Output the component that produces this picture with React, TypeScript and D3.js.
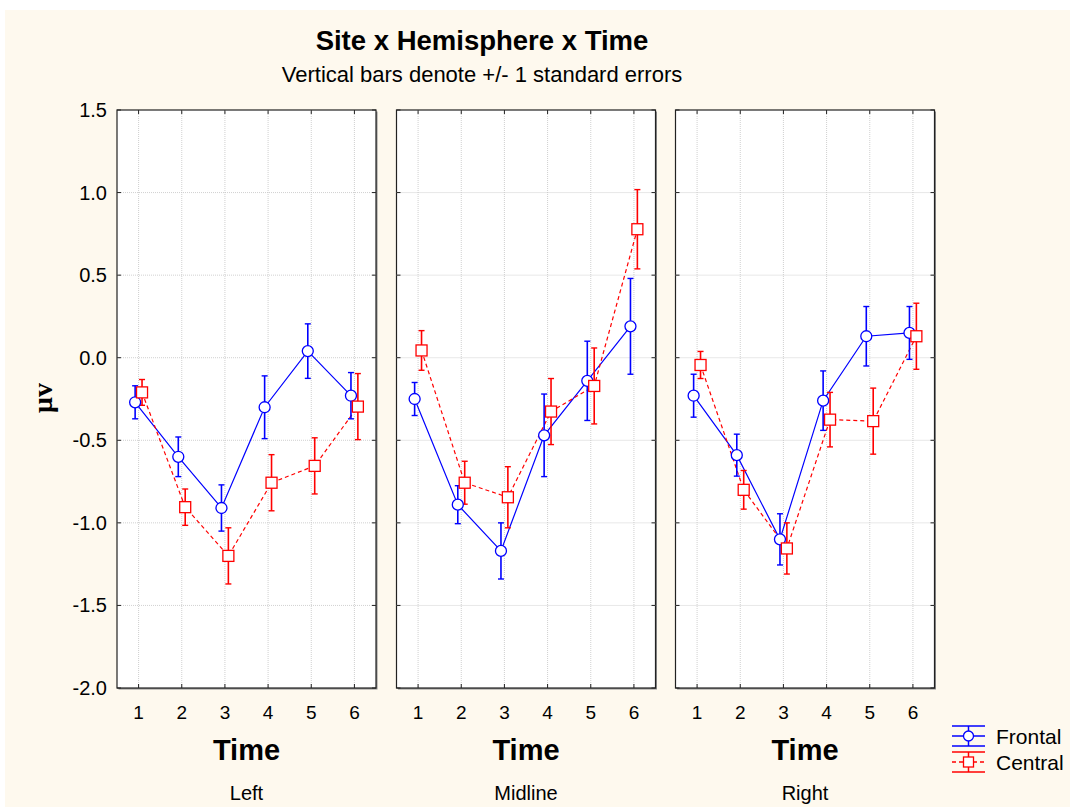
import React from "react";
import * as d3 from "d3";

const panels = ["Left", "Midline", "Right"];
const times = [1, 2, 3, 4, 5, 6];
const yTicks = [1.5, 1.0, 0.5, 0.0, -0.5, -1.0, -1.5, -2.0];

const frontalMean = [
  [-0.27, -0.60, -0.91, -0.30, 0.04, -0.23],
  [-0.25, -0.89, -1.17, -0.47, -0.14, 0.19],
  [-0.23, -0.59, -1.10, -0.26, 0.13, 0.15],
];
const frontalSE = [
  [0.10, 0.12, 0.14, 0.19, 0.165, 0.14],
  [0.10, 0.115, 0.17, 0.25, 0.24, 0.29],
  [0.13, 0.127, 0.155, 0.18, 0.18, 0.16],
];
const centralMean = [
  [-0.21, -0.905, -1.20, -0.757, -0.655, -0.296],
  [0.044, -0.757, -0.845, -0.326, -0.171, 0.778],
  [-0.044, -0.80, -1.155, -0.375, -0.384, 0.13],
];
const centralSE = [
  [0.078, 0.11, 0.17, 0.17, 0.17, 0.2],
  [0.12, 0.13, 0.185, 0.2, 0.23, 0.24],
  [0.082, 0.117, 0.155, 0.165, 0.2, 0.2],
];

const FONT = "'Liberation Sans', Arial, Helvetica, sans-serif";
const BLUE = "#0000ff";
const RED = "#ff0000";

export default function App() {
  const W = 1070, H = 807;
  const top = 110, bottom = 688;
  const panelW = 259;
  const panelLefts = [117, 396.5, 675.5];
  const y = d3.scaleLinear().domain([-2, 1.5]).range([bottom, top]);

  const lineGen = (xs: d3.ScaleLinear<number, number>, off: number) =>
    d3
      .line<number>()
      .x((_, i) => xs(times[i] + off))
      .y((v) => y(v));

  return (
    <svg width={W} height={H} style={{ display: "block", position: "absolute", left: 0, top: 0 }}>
      <rect x={0} y={0} width={W} height={H} fill="#ffffff" />
      <rect x={5} y={10} width={W - 5} height={H - 10} fill="#fef9ee" />
      <text x={482} y={50} textAnchor="middle" fontFamily={FONT} fontWeight="bold" fontSize={27.5}>
        Site x Hemisphere x Time
      </text>
      <text x={482} y={82} textAnchor="middle" fontFamily={FONT} fontSize={22}>
        Vertical bars denote +/- 1 standard errors
      </text>
      <text
        transform={`translate(52,398) rotate(-90)`}
        textAnchor="middle"
        fontFamily="'Liberation Serif', 'Times New Roman', serif"
        fontWeight="bold"
        fontSize={28}
      >
        μv
      </text>
      {yTicks.map((t) => (
        <text key={t} x={107} y={y(t) + 7} textAnchor="end" fontFamily={FONT} fontSize={20}>
          {t.toFixed(1)}
        </text>
      ))}
      {panels.map((name, p) => {
        const x0 = panelLefts[p];
        const xs = d3.scaleLinear().domain([0.5, 6.5]).range([x0, x0 + panelW]);
        const fOff = -0.08, cOff = 0.08;
        const cx = x0 + panelW / 2;
        return (
          <g key={name}>
            <rect x={x0 + 1.5} y={top + 1.5} width={panelW} height={bottom - top} fill="#8a8a8a" />
            <rect x={x0} y={top} width={panelW} height={bottom - top} fill="#ffffff" stroke="#222" strokeWidth={1.2} />
            {yTicks.slice(1, -1).map((t) => (
              <line key={t} x1={x0} x2={x0 + panelW} y1={y(t)} y2={y(t)} stroke="#c4c4c4" strokeWidth={0.8} strokeDasharray="1,1" />
            ))}
            {times.map((t) => (
              <line key={t} x1={xs(t)} x2={xs(t)} y1={top} y2={bottom} stroke="#c4c4c4" strokeWidth={0.8} strokeDasharray="1,1" />
            ))}
            {yTicks.map((t) => (
              <g key={t}>
                <line x1={x0} x2={x0 + 4} y1={y(t)} y2={y(t)} stroke="#222" />
                <line x1={x0 + panelW - 4} x2={x0 + panelW} y1={y(t)} y2={y(t)} stroke="#222" />
              </g>
            ))}
            {times.map((t) => (
              <g key={t}>
                <line x1={xs(t)} x2={xs(t)} y1={bottom} y2={bottom - 4} stroke="#222" />
                <line x1={xs(t)} x2={xs(t)} y1={top} y2={top + 4} stroke="#222" />
                <text x={xs(t)} y={719} textAnchor="middle" fontFamily={FONT} fontSize={19}>
                  {t}
                </text>
              </g>
            ))}
            <text x={cx} y={760} textAnchor="middle" fontFamily={FONT} fontWeight="bold" fontSize={29}>
              Time
            </text>
            <text x={cx} y={800} textAnchor="middle" fontFamily={FONT} fontSize={20}>
              {name}
            </text>
            <path d={lineGen(xs, fOff)(frontalMean[p]) || ""} fill="none" stroke={BLUE} strokeWidth={1.2} />
            <path d={lineGen(xs, cOff)(centralMean[p]) || ""} fill="none" stroke={RED} strokeWidth={1.2} strokeDasharray="4,3" />
            {frontalMean[p].map((v, i) => {
              const px = xs(times[i] + fOff);
              const se = frontalSE[p][i];
              return (
                <g key={"f" + i}>
                  <line x1={px} x2={px} y1={y(v + se)} y2={y(v - se)} stroke={BLUE} strokeWidth={1.6} />
                  <line x1={px - 3} x2={px + 3} y1={y(v + se)} y2={y(v + se)} stroke={BLUE} strokeWidth={1.4} />
                  <line x1={px - 3} x2={px + 3} y1={y(v - se)} y2={y(v - se)} stroke={BLUE} strokeWidth={1.4} />
                </g>
              );
            })}
            {centralMean[p].map((v, i) => {
              const px = xs(times[i] + cOff);
              const se = centralSE[p][i];
              return (
                <g key={"c" + i}>
                  <line x1={px} x2={px} y1={y(v + se)} y2={y(v - se)} stroke={RED} strokeWidth={1.6} />
                  <line x1={px - 3} x2={px + 3} y1={y(v + se)} y2={y(v + se)} stroke={RED} strokeWidth={1.4} />
                  <line x1={px - 3} x2={px + 3} y1={y(v - se)} y2={y(v - se)} stroke={RED} strokeWidth={1.4} />
                </g>
              );
            })}
            {frontalMean[p].map((v, i) => (
              <circle key={"fm" + i} cx={xs(times[i] + fOff)} cy={y(v)} r={5.5} fill="#fff" stroke={BLUE} strokeWidth={1.3} />
            ))}
            {centralMean[p].map((v, i) => (
              <rect key={"cm" + i} x={xs(times[i] + cOff) - 5.5} y={y(v) - 5.5} width={11} height={11} fill="#fff" stroke={RED} strokeWidth={1.3} />
            ))}
          </g>
        );
      })}
      <g>
        <line x1={952} x2={985} y1={726} y2={726} stroke={BLUE} strokeWidth={1.3} />
        <line x1={952} x2={985} y1={736} y2={736} stroke={BLUE} strokeWidth={1.3} />
        <line x1={952} x2={985} y1={746} y2={746} stroke={BLUE} strokeWidth={1.3} />
        <line x1={968.5} x2={968.5} y1={726} y2={746} stroke={BLUE} strokeWidth={1.5} />
        <circle cx={968.5} cy={736} r={5} fill="#fff" stroke={BLUE} strokeWidth={1.3} />
        <text x={996} y={744} fontFamily={FONT} fontSize={21}>Frontal</text>

        <line x1={952} x2={985} y1={752} y2={752} stroke={RED} strokeWidth={1.3} />
        <line x1={952} x2={985} y1={762} y2={762} stroke={RED} strokeWidth={1.3} strokeDasharray="4,3" />
        <line x1={952} x2={985} y1={772} y2={772} stroke={RED} strokeWidth={1.3} />
        <line x1={968.5} x2={968.5} y1={752} y2={772} stroke={RED} strokeWidth={1.5} />
        <rect x={963.5} y={757} width={10} height={10} fill="#fff" stroke={RED} strokeWidth={1.3} />
        <text x={996} y={770} fontFamily={FONT} fontSize={21}>Central</text>
      </g>
    </svg>
  );
}
